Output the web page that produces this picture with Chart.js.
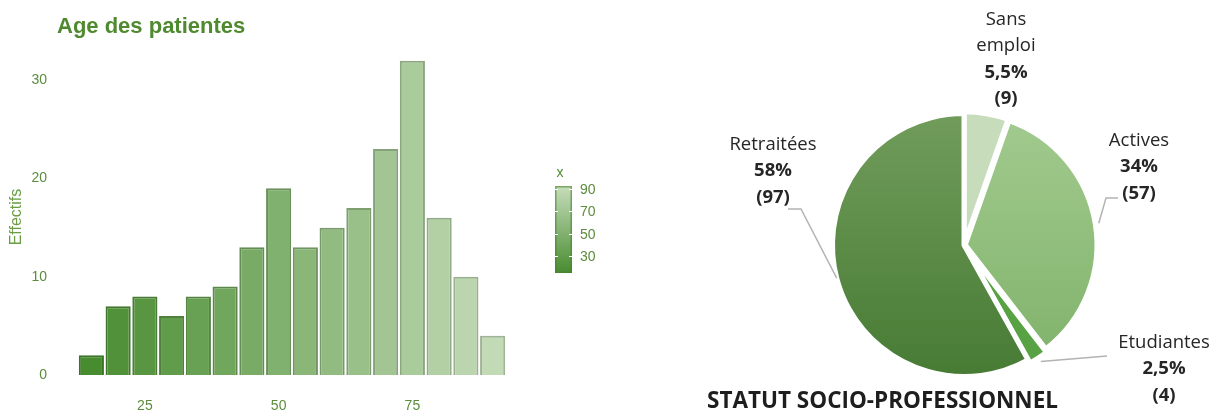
<!DOCTYPE html>
<html>
<head>
<meta charset="utf-8">
<script src="https://cdn.jsdelivr.net/npm/chart.js@4.4.1/dist/chart.umd.min.js"></script>
<style>
  html, body { margin: 0; padding: 0; background: #fff; }
  #wrap { position: relative; width: 1217px; height: 412px; overflow: hidden; }
  #ageChart { position: absolute; left: 0; top: 0; }
  #statutChart { position: absolute; left: 600px; top: 0; }
</style>
</head>
<body>
<div id="wrap">
  <canvas id="ageChart" width="600" height="412"></canvas>
  <canvas id="statutChart" width="617" height="412"></canvas>
</div>
<script>
  // ---- data: age histogram (bins of 5 years, centre value) ----
  const ageBins   = [15, 20, 25, 30, 35, 40, 45, 50, 55, 60, 65, 70, 75, 80, 85, 90];
  const ageCounts = [2, 7, 8, 6, 8, 9, 13, 19, 13, 15, 17, 23, 32, 16, 10, 4];
  const ageTicks   = [25, 50, 75];
  const countTicks = [0, 10, 20, 30];
  const legendTicks = [90, 70, 50, 30];

  // ---- data: statut socio-professionnel ----
  const statutLabels   = ["Sans emploi", "Actives", "Etudiantes", "Retraitées"];
  const statutNames    = [["Sans", "emploi"], ["Actives"], ["Etudiantes"], ["Retraitées"]];
  const statutCounts   = [9, 57, 4, 97];
  const statutPercents = ["5,5%", "34%", "2,5%", "58%"];

  // colour scale by age
  const COLOR_MIN = 15, COLOR_MAX = 92.5;
  const DARK = [72, 140, 48], LIGHT = [199, 221, 187];
  function ageColor(x, k){
    const t = Math.max(0, Math.min(1, (x - COLOR_MIN) / (COLOR_MAX - COLOR_MIN)));
    const c = DARK.map((d, i) => Math.round((d + (LIGHT[i] - d) * t) * (k || 1)));
    return "rgb(" + c.join(",") + ")";
  }

  const GREEN_TXT = "#5b8c3c";

  const ageDecor = {
    id: "ageDecor",
    afterDraw(chart){
      const ctx = chart.ctx;
      ctx.save();
      // title
      ctx.fillStyle = "#4f8a2f";
      ctx.font = "bold 22px 'Liberation Sans', Arial, sans-serif";
      ctx.textAlign = "left";
      ctx.textBaseline = "alphabetic";
      ctx.fillText("Age des patientes", 57, 33);

      // y title
      ctx.save();
      ctx.translate(21, 217);
      ctx.rotate(-Math.PI / 2);
      ctx.textAlign = "center";
      ctx.fillStyle = "#6a9e45";
      ctx.font = "16px 'Liberation Sans', Arial, sans-serif";
      ctx.fillText("Effectifs", 0, 0);
      ctx.restore();

      // colour bar legend
      const x0 = 555, w = 17, top = 186, bottom = 273;
      const pos = v => bottom - (v - COLOR_MIN) / (COLOR_MAX - COLOR_MIN) * (bottom - top);
      const g = ctx.createLinearGradient(0, top, 0, bottom);
      g.addColorStop(0, ageColor(COLOR_MAX));
      g.addColorStop(1, ageColor(COLOR_MIN));
      ctx.fillStyle = g;
      ctx.fillRect(x0, top, w, bottom - top);
      ctx.strokeStyle = "rgba(70,130,45,0.6)";
      ctx.lineWidth = 1.5;
      ctx.strokeRect(x0 + 0.75, top + 0.75, w - 1.5, bottom - top - 1.5);
      ctx.strokeStyle = "#fff";
      ctx.lineWidth = 1;
      ctx.font = "14px 'Liberation Sans', Arial, sans-serif";
      ctx.textBaseline = "middle";
      ctx.textAlign = "left";
      legendTicks.forEach(v => {
        const y = Math.round(pos(v)) + 0.5;
        ctx.beginPath();
        ctx.moveTo(x0, y); ctx.lineTo(x0 + 3, y);
        ctx.moveTo(x0 + w - 3, y); ctx.lineTo(x0 + w, y);
        ctx.stroke();
        ctx.fillStyle = GREEN_TXT;
        ctx.fillText(String(v), 580, y + 1);
      });
      ctx.fillStyle = "#4f8a2f";
      ctx.textAlign = "center";
      ctx.fillText("x", 560, 173);
      ctx.restore();
    }
  };

  new Chart(document.getElementById("ageChart"), {
    type: "bar",
    data: {
      datasets: [{
        data: ageBins.map((b, i) => ({ x: b, y: ageCounts[i] })),
        backgroundColor: ageBins.map(b => ageColor(b)),
        borderColor: ageBins.map(b => ageColor(b, 0.82)),
        borderWidth: 2,
        barPercentage: 0.94,
        categoryPercentage: 1
      }]
    },
    options: {
      responsive: false,
      animation: false,
      layout: { padding: { top: 41, right: 94, bottom: 0, left: 0 } },
      plugins: { legend: { display: false }, tooltip: { enabled: false } },
      scales: {
        x: {
          type: "linear", min: 12.5, max: 92.5, offset: false,
          grid: { display: false, drawTicks: false },
          border: { display: false },
          afterBuildTicks: s => { s.ticks = ageTicks.map(v => ({ value: v })); },
          afterFit: s => { s.height = 37; },
          ticks: { padding: 23, maxRotation: 0, color: GREEN_TXT, font: { family: "Liberation Sans", size: 14 } }
        },
        y: {
          min: 0, max: 34,
          grid: { display: false, drawTicks: false },
          border: { display: false },
          afterBuildTicks: s => { s.ticks = countTicks.map(v => ({ value: v })); },
          afterFit: s => { s.width = 78; s.paddingTop = 8; s.paddingBottom = 8; },
          ticks: { padding: 31, color: GREEN_TXT, font: { family: "Liberation Sans", size: 14 } }
        }
      }
    },
    plugins: [ageDecor]
  });

  // ---- pie ----
  const sliceTop    = ["#c6dcbb", "#a3cb90", "#58a244", "#729d5c"];
  const sliceBottom = ["#c6dcbb", "#7eb168", "#58a244", "#467a33"];
  function sliceFill(c){
    const i = c.dataIndex;
    const a = c.chart.chartArea;
    if (i === undefined) return sliceTop[0];
    if (!a) return sliceTop[i];
    const g = c.chart.ctx.createLinearGradient(0, a.top, 0, a.bottom);
    g.addColorStop(0, sliceTop[i]);
    g.addColorStop(1, sliceBottom[i]);
    return g;
  }

  // label placement relative to the pie centre
  const labelLayout = [
    { dx: 42,   dy: -220, leader: null },
    { dx: 175,  dy: -99,  leader: [[142, -47], [154, -47]] },
    { dx: 200,  dy: 103,  leader: [[143, 111]] },
    { dx: -191, dy: -95,  leader: [[-163, -36], [-176, -36]] }
  ];

  const pieLabels = {
    id: "pieLabels",
    afterDraw(chart){
      const ctx = chart.ctx;
      const meta = chart.getDatasetMeta(0);
      ctx.save();
      meta.data.forEach((arc, i) => {
        const p = arc.getProps(["x", "y", "startAngle", "endAngle", "outerRadius"], true);
        const mid = (p.startAngle + p.endAngle) / 2;
        const off = arc.options.offset || 0;
        const ex = p.x + Math.cos(mid) * (p.outerRadius + off);
        const ey = p.y + Math.sin(mid) * (p.outerRadius + off);
        const lay = labelLayout[i];
        if (lay.leader){
          ctx.strokeStyle = "#b3b3b3";
          ctx.lineWidth = 1.5;
          ctx.beginPath();
          ctx.moveTo(ex, ey);
          lay.leader.forEach(q => ctx.lineTo(p.x + q[0], p.y + q[1]));
          ctx.stroke();
        }
        const lines = statutNames[i].map(t => ({ t, b: false }))
          .concat([{ t: statutPercents[i], b: true }, { t: "(" + statutCounts[i] + ")", b: true }]);
        ctx.fillStyle = "#262626";
        ctx.textAlign = "center";
        ctx.textBaseline = "alphabetic";
        lines.forEach((ln, k) => {
          ctx.font = (ln.b ? "bold " : "") + "18.5px 'Open Sans', sans-serif";
          ctx.fillText(ln.t, p.x + lay.dx, p.y + lay.dy + k * 26.3);
        });
      });
      ctx.fillStyle = "#1e1e1e";
      ctx.textAlign = "left";
      ctx.font = "bold 22.5px 'Open Sans', sans-serif";
      ctx.fillText("STATUT SOCIO-PROFESSIONNEL", 107, 408);
      ctx.restore();
    }
  };

  new Chart(document.getElementById("statutChart"), {
    type: "pie",
    data: {
      labels: statutLabels,
      datasets: [{
        data: statutCounts,
        backgroundColor: sliceFill,
        borderColor: "#ffffff",
        borderWidth: 5,
        offset: [4, 5, 8, 0]
      }]
    },
    options: {
      responsive: false,
      animation: false,
      layout: { padding: { top: 107, bottom: 29, left: 226, right: 115 } },
      plugins: { legend: { display: false }, tooltip: { enabled: false } }
    },
    plugins: [pieLabels]
  });
</script>
</body>
</html>
